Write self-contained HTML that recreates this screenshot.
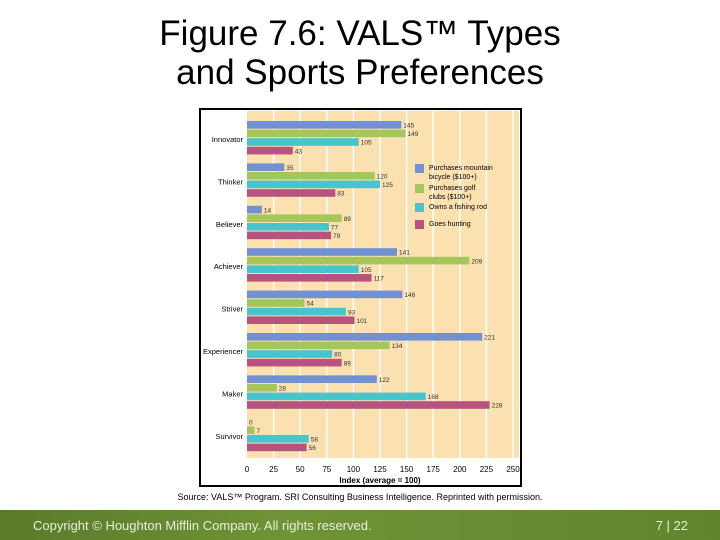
<!DOCTYPE html>
<html><head><meta charset="utf-8"><style>
body{margin:0;width:720px;height:540px;overflow:hidden;background:#fff;font-family:"Liberation Sans",sans-serif;position:relative}
.t{position:absolute;left:0;width:720px;text-align:center;font-size:35px;color:#000;white-space:nowrap}
#footer{position:absolute;left:0;top:510px;width:720px;height:30px;background:linear-gradient(90deg,#5a7a2a,#6f9436 40%,#5f852e);color:#e8f0d8;font-size:13px}
</style></head><body>
<div class="t" style="top:14px">Figure 7.6: VALS™ Types</div>
<div class="t" style="top:53px">and Sports Preferences</div>
<svg id="chart" width="720" height="540" style="position:absolute;left:0;top:0"></svg>
<div style="position:absolute;top:492px;left:0;width:720px;text-align:center;font-size:9px">Source: VALS™ Program. SRI Consulting Business Intelligence. Reprinted with permission.</div>
<div id="footer">
<span style="position:absolute;left:33px;top:8px">Copyright © Houghton Mifflin Company. All rights reserved.</span>
<span style="position:absolute;right:32px;top:8px">7 | 22</span>
</div>
<script>
const categories=["Innovator","Thinker","Believer","Achiever","Striver","Experiencer","Maker","Survivor"];
const bikes=[145,35,14,141,146,221,122,0];
const golf=[149,120,89,209,54,134,28,7];
const fishing=[105,125,77,105,93,80,168,58];
const hunting=[43,83,79,117,101,89,228,56];
const ticks=[0,25,50,75,100,125,150,175,200,225,250];
const seriesNames=["Purchases mountain|bicycle ($100+)","Purchases golf|clubs ($100+)","Owns a fishing rod","Goes hunting"];
const colors=["#7191d2","#a5c65a","#46c5cf","#b8527f"];
const svg=document.getElementById('chart');const NS="http://www.w3.org/2000/svg";
function mk(t,a,p){const e=document.createElementNS(NS,t);for(const k in a)e.setAttribute(k,a[k]);(p||svg).appendChild(e);return e;}
const x0=247,x1=513;const xs=v=>x0+(x1-x0)*v/250;
const groupTop=i=>121+i*42.4;
const frame=mk('rect',{x:200,y:109,width:321,height:377,fill:'#fff',stroke:'#000','stroke-width':2});


const bg=mk('rect',{x:x0,y:111,width:x1-x0+6,height:347,fill:'#fbe0b0'});


ticks.forEach(t=>{
 if(t>0){const g=mk('line',{x1:xs(t),x2:xs(t),y1:111,y2:458,stroke:'#fff','stroke-width':1.5});
 
 }
 const l=mk('text',{x:xs(t),y:472,'font-size':8,'text-anchor':'middle','font-family':'Liberation Sans'});l.textContent=t;
 
 
});
const at=mk('text',{x:380,y:483,'font-size':8,'font-weight':'bold','text-anchor':'middle','font-family':'Liberation Sans'});at.textContent='Index (average = 100)';


const series=[bikes,golf,fishing,hunting];
categories.forEach((c,i)=>{
 const y=groupTop(i);
 const cl=mk('text',{x:243,y:y+21,'font-size':7.5,'text-anchor':'end','font-family':'Liberation Sans'});cl.textContent=c;
 
 
 series.forEach((s,j)=>{
  const by=y+j*8.6;
  const r=mk('rect',{x:x0,y:by,width:Math.max(0,xs(s[i])-x0),height:7.6,fill:colors[j]});
  
  
  const v=mk('text',{x:xs(s[i])+2,y:by+6.5,'font-size':6.5,'font-family':'Liberation Sans',fill:'#333'});v.textContent=s[i];
  
  
 });
});
const ly=[164,184,203,220];
seriesNames.forEach((n,j)=>{
 const r=mk('rect',{x:415,y:ly[j],width:9,height:9,fill:colors[j]});
 
 
 n.split('|').forEach((p,k)=>{
  const t=mk('text',{x:429,y:ly[j]+6+k*9,'font-size':7,'font-family':'Liberation Sans'});t.textContent=p;
  
  
 });
});
</script>
</body></html>
